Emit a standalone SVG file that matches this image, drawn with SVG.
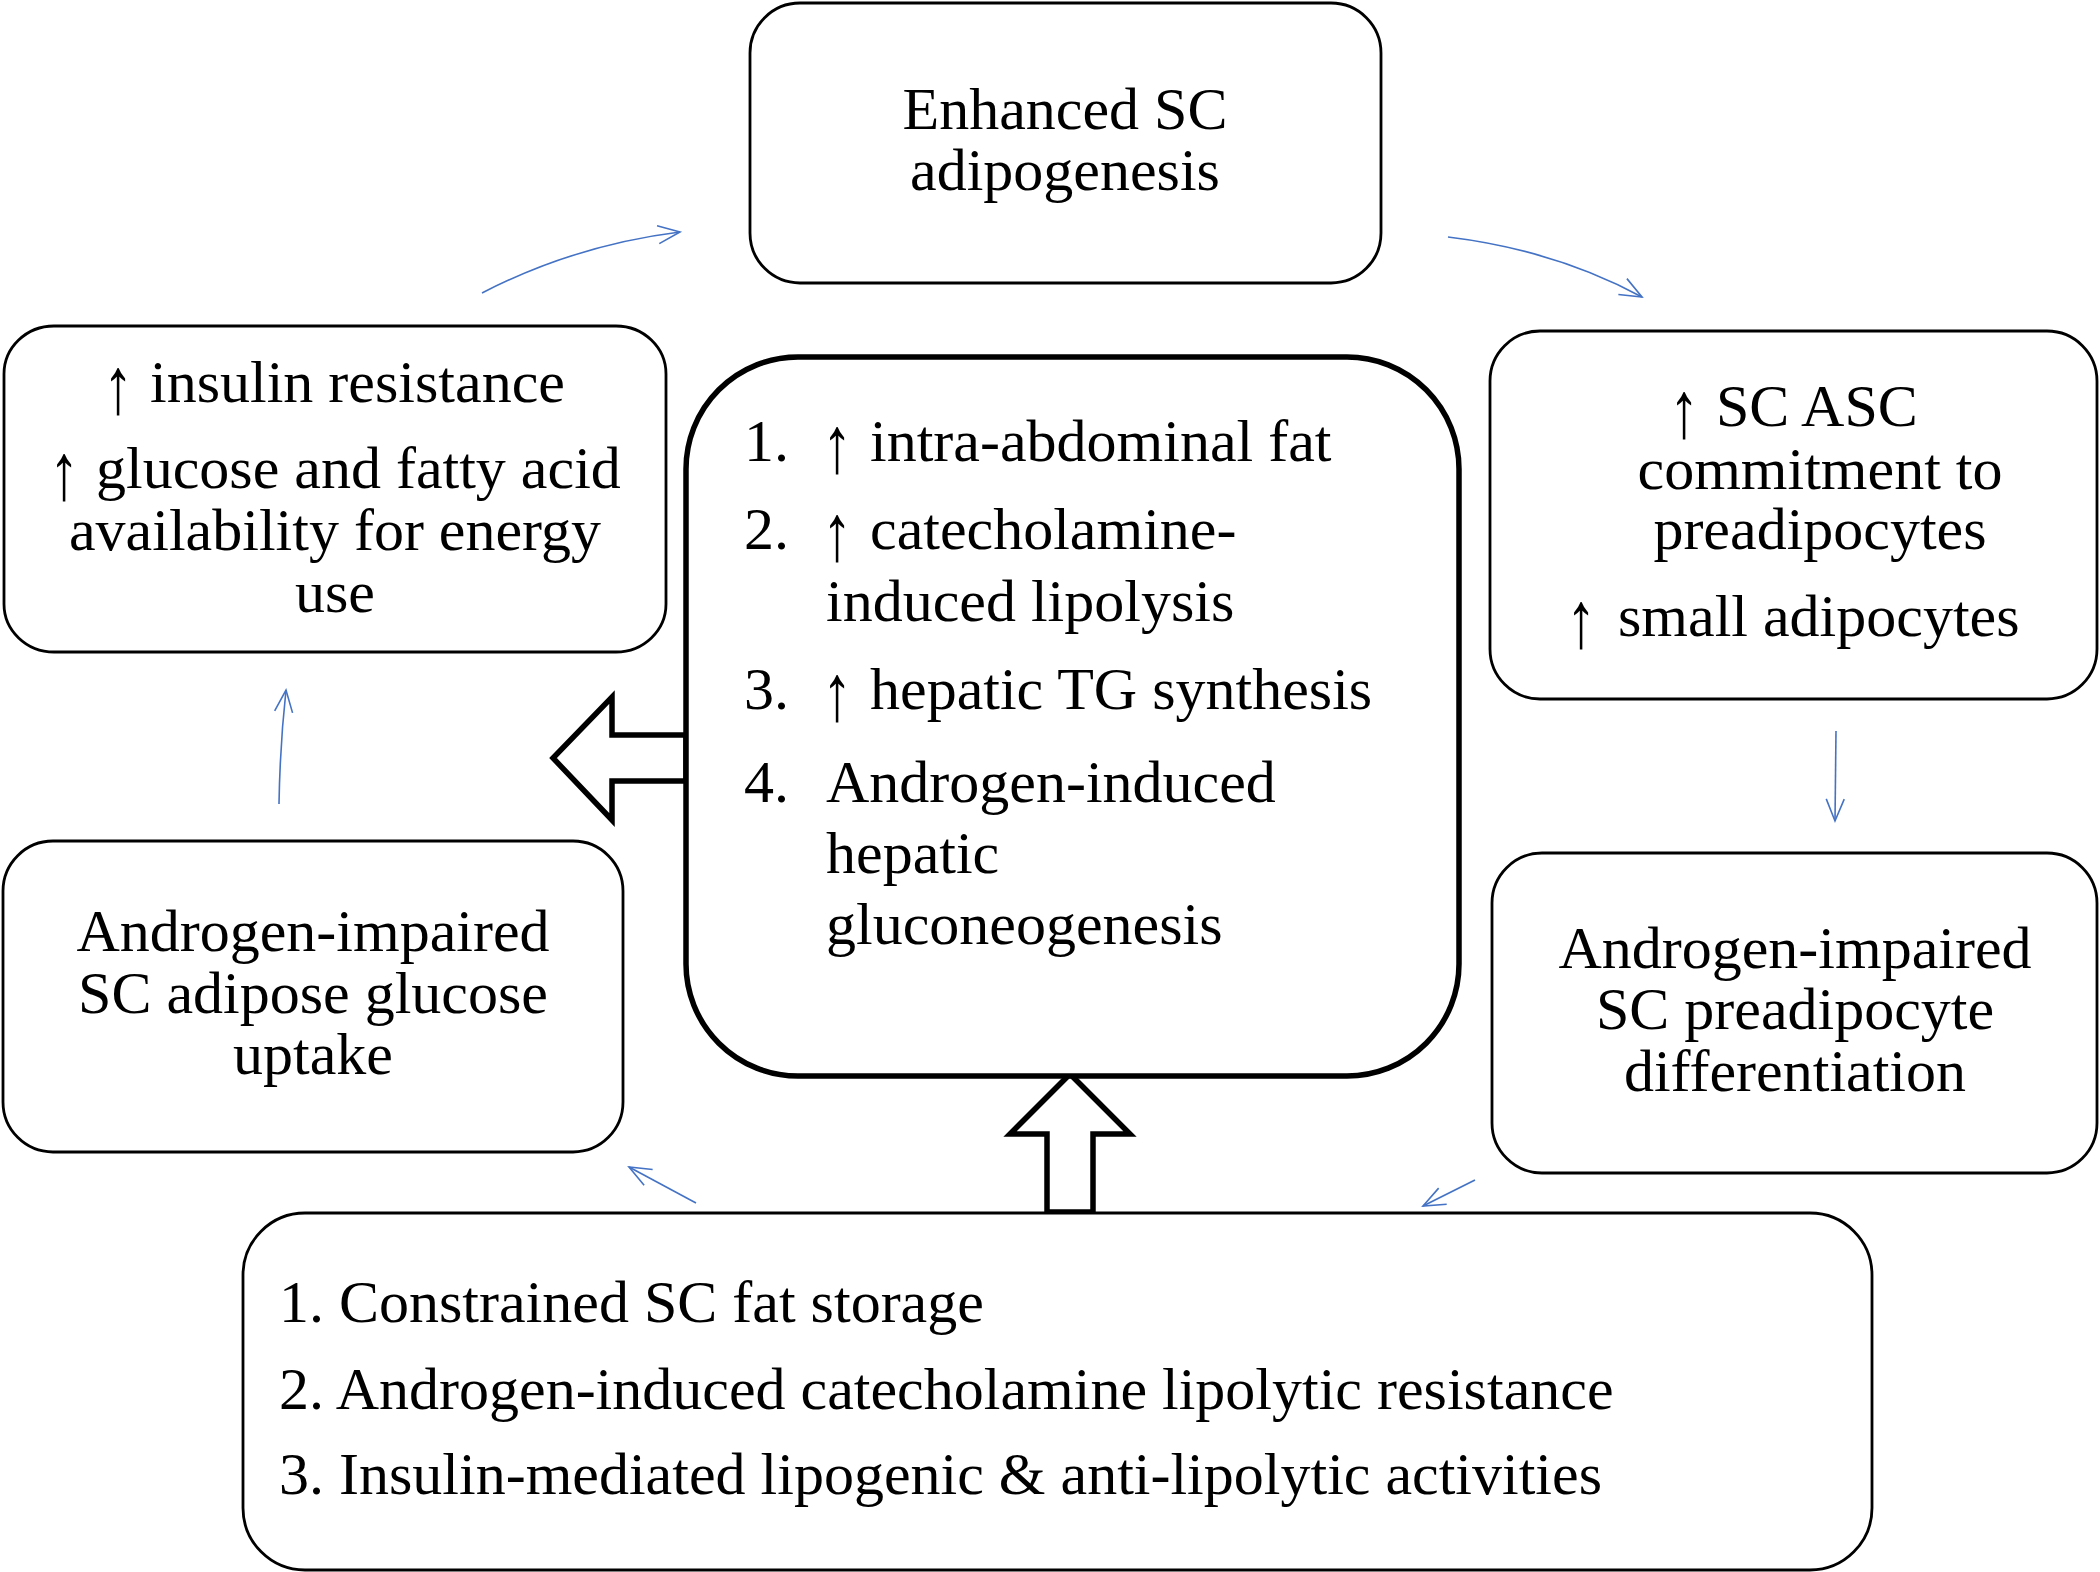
<svg xmlns="http://www.w3.org/2000/svg" width="2100" height="1572" viewBox="0 0 2100 1572">
<defs>
<style>
.box{fill:#fff;stroke:#000;stroke-width:2.8}
.main{fill:#fff;stroke:#000;stroke-width:5.5}
.blk{fill:#fff;stroke:#000;stroke-width:5.5;stroke-linejoin:miter}
.t{font-family:"Liberation Serif","Times New Roman",serif;font-size:60px;fill:#000}
.c{text-anchor:middle}
.con{fill:none;stroke:#4472C4;stroke-width:1.6}
</style>
<marker id="ah" viewBox="-2 -12 27 24" markerWidth="27" markerHeight="24" refX="22" refY="0" orient="auto" markerUnits="userSpaceOnUse">
<path d="M0,-9 L22,0 L0,9" fill="none" stroke="#4472C4" stroke-width="1.6"/>
</marker>
</defs>
<rect width="2100" height="1572" fill="#fff"/>

<g id="connectors">
<path class="con" d="M482,293 Q575,245 680,232" marker-end="url(#ah)"/>
<path class="con" d="M1448,237 Q1555,250 1642,297" marker-end="url(#ah)"/>
<path class="con" d="M1836,731 L1835,821" marker-end="url(#ah)"/>
<path class="con" d="M1475,1180 L1423,1206" marker-end="url(#ah)"/>
<path class="con" d="M696,1203 L629,1167" marker-end="url(#ah)"/>
<path class="con" d="M279,804 Q280,745 286,690" marker-end="url(#ah)"/>
<polygon class="blk" points="686,735 612,735 612,697 553,758 612,820 612,781 686,781"/>
<polygon class="blk" points="1047,1212 1047,1134 1010,1134 1070,1074 1130,1134 1093,1134 1093,1212"/>
</g>

<g id="n-top">
<rect class="box" x="750" y="3" width="631" height="280" rx="50" ry="50"/>
<text class="t c" x="1065" y="129">Enhanced SC</text>
<text class="t c" x="1065" y="190">adipogenesis</text>
</g>

<g id="n-insulin">
<rect class="box" x="4" y="326" width="662" height="326" rx="50" ry="48"/>
<text class="t c" transform="translate(118,413) scale(1,1.34)">↑</text>
<text class="t" x="150" y="402">insulin resistance</text>
<text class="t c" transform="translate(64,499) scale(1,1.34)">↑</text>
<text class="t" x="96" y="488">glucose and fatty acid</text>
<text class="t c" x="335" y="550">availability for energy</text>
<text class="t c" x="335" y="612">use</text>
</g>

<g id="n-center">
<rect class="main" x="686" y="357" width="773" height="719" rx="112" ry="112"/>
<text class="t" x="744" y="461">1.</text>
<text class="t c" transform="translate(837,472) scale(1,1.34)">↑</text>
<text class="t" x="870" y="461">intra-abdominal fat</text>
<text class="t" x="744" y="549">2.</text>
<text class="t c" transform="translate(837,560) scale(1,1.34)">↑</text>
<text class="t" x="870" y="549">catecholamine-</text>
<text class="t" x="826" y="621">induced lipolysis</text>
<text class="t" x="744" y="709">3.</text>
<text class="t c" transform="translate(837,720) scale(1,1.34)">↑</text>
<text class="t" x="870" y="709">hepatic TG synthesis</text>
<text class="t" x="744" y="802">4.</text>
<text class="t" x="826" y="802">Androgen-induced</text>
<text class="t" x="826" y="873">hepatic</text>
<text class="t" x="826" y="944">gluconeogenesis</text>
</g>

<g id="n-asc">
<rect class="box" x="1490" y="331" width="607" height="368" rx="50" ry="50"/>
<text class="t c" transform="translate(1684,437) scale(1,1.34)">↑</text>
<text class="t" x="1716" y="426">SC ASC</text>
<text class="t c" x="1820" y="489">commitment to</text>
<text class="t c" x="1820" y="549">preadipocytes</text>
<text class="t c" transform="translate(1581,647) scale(1,1.34)">↑</text>
<text class="t" x="1618" y="636">small adipocytes</text>
</g>

<g id="n-preadip">
<rect class="box" x="1492" y="853" width="605" height="320" rx="50" ry="50"/>
<text class="t c" x="1795" y="968">Androgen-impaired</text>
<text class="t c" x="1795" y="1029">SC preadipocyte</text>
<text class="t c" x="1795" y="1091">differentiation</text>
</g>

<g id="n-glucose">
<rect class="box" x="3" y="841" width="620" height="311" rx="50" ry="50"/>
<text class="t c" x="313" y="951">Androgen-impaired</text>
<text class="t c" x="313" y="1013">SC adipose glucose</text>
<text class="t c" x="313" y="1074">uptake</text>
</g>

<g id="n-bottom">
<rect class="box" x="243" y="1213" width="1629" height="357" rx="62" ry="62"/>
<text class="t" x="279" y="1322">1. Constrained SC fat storage</text>
<text class="t" x="279" y="1409">2. Androgen-induced catecholamine lipolytic resistance</text>
<text class="t" x="279" y="1494">3. Insulin-mediated lipogenic &amp; anti-lipolytic activities</text>
</g>
</svg>
